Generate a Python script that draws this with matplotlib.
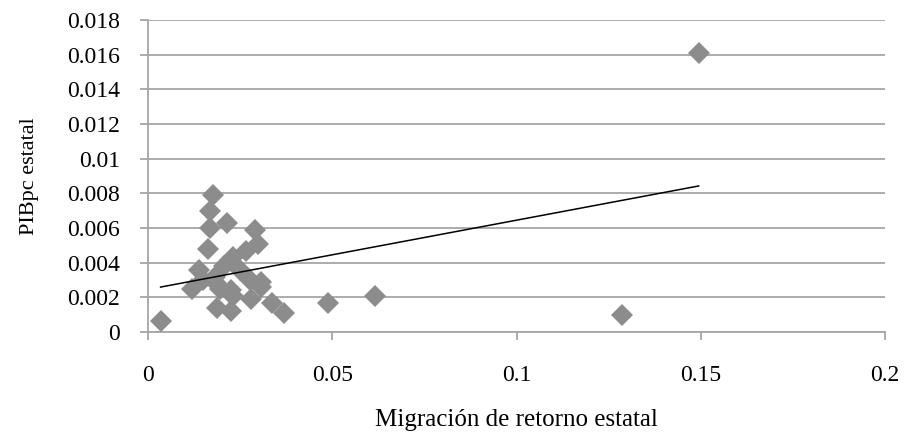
import numpy as np
import matplotlib.pyplot as plt

plt.rcParams['font.family'] = 'Liberation Serif'

# Migración de retorno estatal vs PIBpc estatal
migracion = [0.0034, 0.0176, 0.0167, 0.0214, 0.0169, 0.0289, 0.0299, 0.0267,
             0.0163, 0.0230, 0.0206, 0.0138, 0.0181, 0.0118, 0.0194, 0.0226,
             0.0276, 0.0307, 0.0307, 0.0230, 0.0278, 0.0186, 0.0224, 0.0336,
             0.0370, 0.0489, 0.0615, 0.1286, 0.1494, 0.0150, 0.0250, 0.0185]
pibpc = [0.00064, 0.0079, 0.0070, 0.0063, 0.0060, 0.0059, 0.0051, 0.0047,
         0.0048, 0.0043, 0.0038, 0.0036, 0.0032, 0.0025, 0.0025, 0.0024,
         0.0030, 0.0029, 0.0026, 0.0021, 0.0019, 0.0014, 0.0012, 0.0017,
         0.0011, 0.0017, 0.0021, 0.00097, 0.0161, 0.0030, 0.0036, 0.0028]

x = np.array(migracion)
y = np.array(pibpc)

fig = plt.figure(figsize=(9.06, 4.36), dpi=100)
ax = fig.add_axes([0.1634, 0.2385, 0.8136, 0.7155])

grid_col = '#a6a6a6'
ax.set_axisbelow(True)
ax.yaxis.grid(True, color=grid_col, lw=1.3)

ax.plot(x, y, 'D', color='#8c8c8c', markersize=11.5, markeredgewidth=0, zorder=3)

# linear trend
m, b = np.polyfit(x, y, 1)
xt = np.array([x.min(), x.max()])
ax.plot(xt, m * xt + b, color='black', lw=1.1, zorder=4)

ax.set_xlim(0, 0.2)
ax.set_ylim(0, 0.018)
ax.set_xticks([0, 0.05, 0.1, 0.15, 0.2])
ax.set_xticklabels(['0', '0.05', '0.1', '0.15', '0.2'])
ax.set_yticks(np.arange(0, 0.0181, 0.002))
ax.set_yticklabels(['0', '0.002', '0.004', '0.006', '0.008', '0.01',
                    '0.012', '0.014', '0.016', '0.018'])

for s in ['top', 'right']:
    ax.spines[s].set_visible(False)
for s in ['left', 'bottom']:
    ax.spines[s].set_color(grid_col)
    ax.spines[s].set_linewidth(1.3)

ax.tick_params(axis='both', colors=grid_col, labelcolor='black',
               labelsize=17, length=6, width=1.3)
ax.tick_params(axis='x', pad=18)
ax.tick_params(axis='y', pad=14)

ax.set_xlabel('Migración de retorno estatal', fontsize=18, labelpad=16)
ax.set_ylabel('PIBpc estatal', fontsize=16, labelpad=20)

fig.savefig('out.png', dpi=100)
